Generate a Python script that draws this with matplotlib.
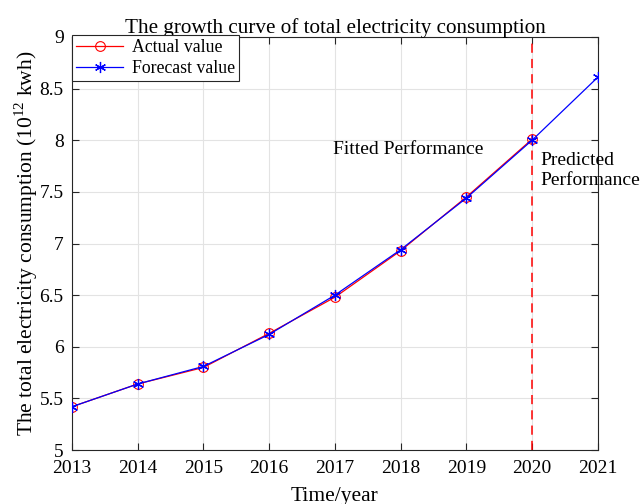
import matplotlib
matplotlib.use("Agg")
import matplotlib.pyplot as plt

plt.rcParams['font.family'] = ['Liberation Serif', 'DejaVu Serif']
plt.rcParams['mathtext.fontset'] = 'custom'
plt.rcParams['mathtext.rm'] = 'Liberation Serif'

years_actual = [2013, 2014, 2015, 2016, 2017, 2018, 2019, 2020]
actual = [5.42, 5.64, 5.80, 6.13, 6.48, 6.93, 7.45, 8.01]
years_forecast = [2013, 2014, 2015, 2016, 2017, 2018, 2019, 2020, 2021]
forecast = [5.42, 5.64, 5.81, 6.12, 6.50, 6.94, 7.44, 8.00, 8.61]
split_year = 2020

fig = plt.figure(figsize=(6.4, 5.04), dpi=100)
ax = fig.add_axes([0.1125, 0.107, 0.8215, 0.8196])

ax.plot(years_actual, actual, color='red', lw=0.9, marker='o', ms=7,
        mfc='none', mec='red', mew=0.8, label='Actual value', zorder=3)
ax.plot(years_forecast, forecast, color='blue', lw=0.9, marker=(6, 2, 0), ms=8,
        mfc='blue', mec='blue', mew=0.9, label='Forecast value', zorder=4)
ax.axvline(split_year, color='red', ls=(0, (6, 4)), lw=1.1, zorder=2)

ax.set_xlim(2013, 2021)
ax.set_ylim(5, 9)
ax.set_xticks(range(2013, 2022))
ax.set_yticks([5, 5.5, 6, 6.5, 7, 7.5, 8, 8.5, 9])
ax.set_yticklabels(['5', '5.5', '6', '6.5', '7', '7.5', '8', '8.5', '9'])
ax.grid(True, color='#e3e3e3', lw=0.8)
ax.set_axisbelow(True)
for s in ax.spines.values():
    s.set_color('#262626')
    s.set_linewidth(0.8)
ax.tick_params(direction='in', length=5, width=0.8, colors='#262626',
               labelsize=14, labelcolor='black', top=True, right=True)
ax.tick_params(axis='x', pad=7)
ax.tick_params(axis='y', pad=6)

ax.set_title('The growth curve of total electricity consumption', fontsize=15.2, pad=3)
ax.set_xlabel('Time/year', fontsize=15.5, labelpad=7)
ax.set_ylabel(r'The total electricity consumption (10$^{12}$ kwh)', fontsize=15.5, labelpad=0)

ax.text(2018.11, 7.91, 'Fitted Performance', fontsize=14, ha='center', va='center')
ax.text(2020.12, 7.71, 'Predicted\nPerformance', fontsize=14, ha='left', va='center',
        linespacing=1.25, clip_on=False)

leg = ax.legend(loc='upper left', bbox_to_anchor=(0.0, 1.005), fontsize=12.8,
                fancybox=False, framealpha=1, edgecolor='#262626', borderpad=0.25,
                handlelength=2.6, labelspacing=0.2, handletextpad=0.5, borderaxespad=0)
leg.get_frame().set_linewidth(0.8)

fig.savefig('out.png', dpi=100)
